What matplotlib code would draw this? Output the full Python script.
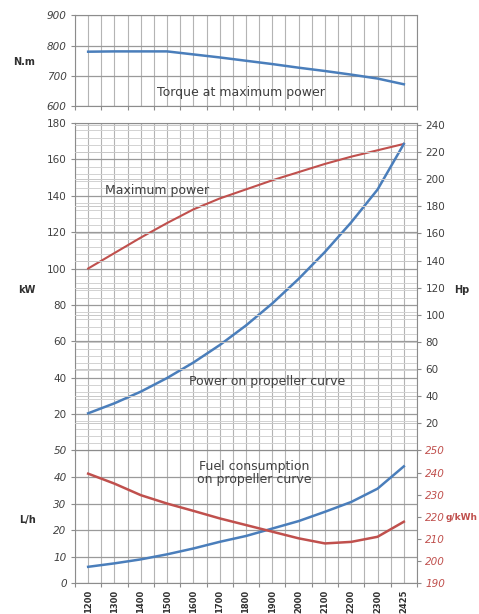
import numpy as np
import matplotlib
matplotlib.use('Agg')
import matplotlib.pyplot as plt
from matplotlib.ticker import MultipleLocator

# Engine speed categories (rpm)
rpm = ['1200', '1300', '1400', '1500', '1600', '1700', '1800',
       '1900', '2000', '2100', '2200', '2300', '2425']

# Torque at maximum power (N.m)
torque = [780, 781, 781, 781, 771, 761, 750, 739, 727, 716, 704, 691, 672]

# Maximum power and power on propeller curve (kW)
max_power = [100, 108.5, 117, 125, 132.5, 138.5, 143.5, 148.5, 153, 157.5, 161.5, 165, 168.5]
prop_power = [20.4, 25.9, 32.3, 39.8, 48.3, 57.9, 68.7, 80.8, 94.3, 109.1, 125.4, 143.4, 168.5]

# Fuel consumption on propeller curve
fuel_lh = [6.2, 7.5, 9.0, 10.9, 13.1, 15.6, 17.8, 20.6, 23.4, 26.9, 30.6, 35.6, 44.0]
fuel_gkwh = [239.5, 235, 229.8, 226, 222.7, 219.3, 216.3, 213.3, 210.3, 208, 208.7, 211, 217.8]

BLUE = '#4a7ebb'
RED = '#c0504d'
GRID = '#b4b4b4'
SPINE = '#8c8c8c'
TXT = '#404040'

x = np.arange(len(rpm))

fig = plt.figure(figsize=(4.79, 6.14), dpi=100)
left, width = 75 / 479, 342 / 479


def frac_axes(top_px, bottom_px):
    return fig.add_axes([left, 1 - bottom_px / 614, width, (bottom_px - top_px) / 614])


def style_axes(ax, italic=False):
    ax.set_xlim(-0.5, len(rpm) - 0.5)
    ax.xaxis.set_major_locator(MultipleLocator(1.0, offset=0.5))
    ax.xaxis.set_minor_locator(MultipleLocator(0.5))
    ax.grid(which='minor', axis='x', color=GRID, linewidth=0.8)
    ax.grid(which='major', axis='x', color=GRID, linewidth=0.8)
    ax.tick_params(axis='x', which='major', length=3, color=SPINE, labelbottom=False)
    ax.tick_params(axis='x', which='minor', length=0)
    ax.tick_params(axis='y', which='major', length=3, color=SPINE, labelsize=7.5,
                   labelcolor=TXT, pad=3)
    ax.tick_params(axis='y', which='minor', length=0)
    for s in ax.spines.values():
        s.set_color(SPINE)
        s.set_linewidth(0.8)
    ax.set_axisbelow(True)
    if italic:
        for lab in ax.get_yticklabels():
            lab.set_fontstyle('italic')


# ---- Torque panel ----
ax1 = frac_axes(15.5, 106)
ax1.plot(x, torque, color=BLUE, linewidth=1.8)
ax1.set_ylim(600, 900)
ax1.set_yticks([600, 700, 800, 900])
ax1.grid(which='major', axis='y', color='#9a9a9a', linewidth=0.9)
style_axes(ax1, italic=True)
ax1.text(5.8, 645, 'Torque at maximum power', fontsize=9, color=TXT, ha='center', va='center')
fig.text(24 / 479, 1 - 62 / 614, 'N.m', fontsize=7, fontweight='bold', color='#303030',
         ha='center', va='center')

# ---- Power panel ----
ax2 = frac_axes(123, 450.4)
ax2.plot(x, max_power, color=RED, linewidth=1.5)
ax2.plot(x, prop_power, color=BLUE, linewidth=1.8)
ax2.set_ylim(0, 180)
ax2.set_yticks(np.arange(20, 181, 20))
ax2.yaxis.set_minor_locator(MultipleLocator(4))
ax2.grid(which='major', axis='y', color='#9a9a9a', linewidth=0.9)
ax2.grid(which='minor', axis='y', color='#d2d2d2', linewidth=0.7)
style_axes(ax2)
ax2.text(0.65, 143, 'Maximum power', fontsize=9, color=TXT, ha='left', va='center')
ax2.text(3.85, 38, 'Power on propeller curve', fontsize=9, color=TXT, ha='left', va='center')
fig.text(27 / 479, 1 - 290 / 614, 'kW', fontsize=7, fontweight='bold', color='#303030',
         ha='center', va='center')

ax2r = ax2.twinx()
ax2r.set_ylim(0, 180 * 1.341)
ax2r.set_yticks(np.arange(20, 241, 20))
ax2r.grid(which='major', axis='y', color='#c8c8c8', linewidth=0.7)
ax2r.tick_params(axis='y', length=3, color=SPINE, labelsize=7.5, labelcolor=TXT, pad=3)
for s in ax2r.spines.values():
    s.set_visible(False)
fig.text(462 / 479, 1 - 290 / 614, 'Hp', fontsize=7, fontweight='bold', color='#303030',
         ha='center', va='center')

# ---- Fuel panel ----
ax3 = frac_axes(450.4, 583.3)
ax3.plot(x, fuel_lh, color=BLUE, linewidth=1.8)
ax3.set_ylim(0, 50)
ax3.set_yticks(np.arange(0, 51, 10))
ax3.grid(which='major', axis='y', color='#9a9a9a', linewidth=0.9)
style_axes(ax3, italic=True)
ax3.text(6.3, 41.5, 'Fuel consumption\non propeller curve', fontsize=9, color=TXT,
         ha='center', va='center', linespacing=1.0)
fig.text(27 / 479, 1 - 520 / 614, 'L/h', fontsize=7, fontweight='bold', color='#303030',
         ha='center', va='center')

ax3r = ax3.twinx()
ax3r.plot(x, fuel_gkwh, color=RED, linewidth=1.8)
ax3r.set_ylim(190, 250)
ax3r.set_yticks(np.arange(190, 251, 10))
ax3r.tick_params(axis='y', length=3, color=SPINE, labelsize=7.5, labelcolor=RED, pad=3)
for lab in ax3r.get_yticklabels():
    lab.set_fontstyle('italic')
for s in ax3r.spines.values():
    s.set_visible(False)
fig.text(446 / 479, 1 - 518 / 614, 'g/kWh', fontsize=6.5, fontweight='bold', color=RED,
         ha='left', va='center')

# rotated rpm labels under the bottom panel
for xi, lab in zip(x, rpm):
    ax3.text(xi, -2.5, lab, rotation=90, fontsize=6, fontweight='bold', color='#303030',
             ha='center', va='top', transform=ax3.transData)

fig.savefig('out.png', dpi=100)
